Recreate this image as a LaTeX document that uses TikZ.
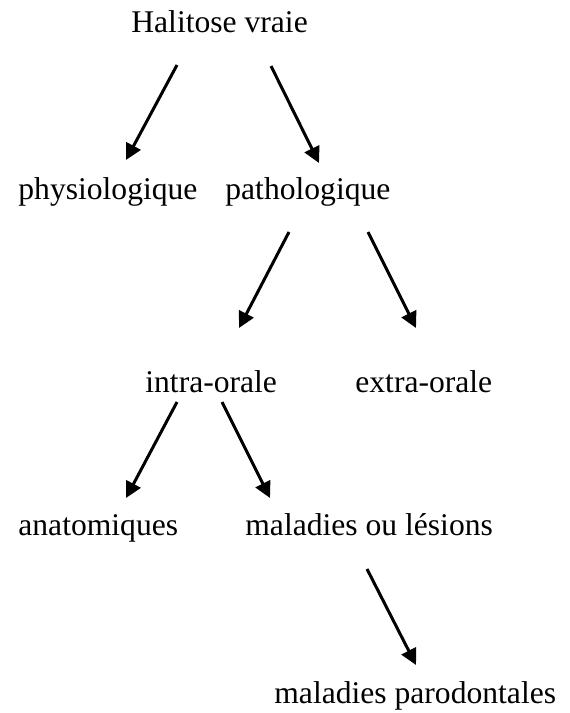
\documentclass[tikz,border=0pt]{standalone}
\usepackage{fontspec}
\setmainfont{Liberation Serif}
\usetikzlibrary{arrows.meta,positioning}

\begin{document}
\begin{tikzpicture}[x=0.5pt,y=-0.5pt]
\tikzstyle{term}=[inner sep=0pt, anchor=base west, font=\fontsize{15.8}{19}\selectfont]
\tikzstyle{connect}=[-{Triangle[length=8pt,width=8pt]}, line width=1.5pt]
  \useasboundingbox (0,0) rectangle (569,713);
  \node[term] (halitose) at (131,32) {Halitose vraie};
  \node[term] (physio) at (18,199) {physiologique};
  \node[term] (patho) at (225,199) {pathologique};
  \node[term] (intra) at (145,392) {intra-orale};
  \node[term] (extra) at (355,392) {extra-orale};
  \node[term] (anatom) at (18,535) {anatomiques};
  \node[term] (lesions) at (245,535) {maladies ou lésions};
  \node[term] (paro) at (274,703) {maladies parodontales};
  % arrow ends
  \coordinate (hp1) at (177,65);  \coordinate (hp2) at (126,160);
  \coordinate (hq1) at (271,66);  \coordinate (hq2) at (319,163);
  \coordinate (pi1) at (289,232); \coordinate (pi2) at (239,328);
  \coordinate (pe1) at (368,232); \coordinate (pe2) at (416,328);
  \coordinate (ia1) at (177,402); \coordinate (ia2) at (126,498);
  \coordinate (il1) at (222,402); \coordinate (il2) at (270,498);
  \coordinate (lp1) at (367,569); \coordinate (lp2) at (416,665);
  \path
        (hp1) edge [connect] (hp2)
        (hq1) edge [connect] (hq2)
        (pi1) edge [connect] (pi2)
        (pe1) edge [connect] (pe2)
        (ia1) edge [connect] (ia2)
        (il1) edge [connect] (il2)
        (lp1) edge [connect] (lp2);
\end{tikzpicture}
\end{document}
